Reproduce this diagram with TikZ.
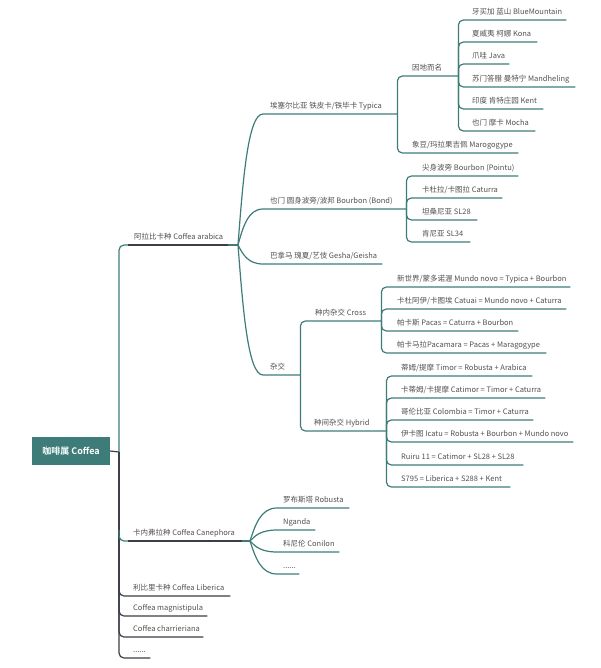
\documentclass[tikz,border=0pt]{standalone}
\usepackage{fontspec}
\setmainfont{Noto Sans CJK SC}[BoldFont={Noto Sans CJK SC Bold}]
\usetikzlibrary{calc}
\definecolor{tl}{HTML}{3D7C79}
\definecolor{dk}{HTML}{3A3E45}
\definecolor{txt}{HTML}{505050}
\tikzset{
  tp/.style={inner xsep=0pt, inner ysep=5.5pt, text depth=0pt, text height=6pt,
    font=\fontsize{7.5}{9}\selectfont, text=txt},
  root/.style={fill=tl, text=white, minimum width=78pt, minimum height=28pt,
    inner sep=0pt, font=\fontsize{9}{11}\selectfont\bfseries},
  tline/.style={draw=tl, line width=1.2pt},
  dline/.style={draw=dk, line width=1.2pt},
  cv/.style={to path={let \p1=(\tikztostart), \p2=(\tikztotarget) in
    .. controls ({\x1+0.2*(\x2-\x1)}, {\y1+0.5*(\y2-\y1)}) and ({\x1+0.4*(\x2-\x1)}, \y2) .. (\tikztotarget)}}
}
\newcommand\tpc[6]{\node[tp, anchor=south west] (#1) at (#2,#4)
  {\makebox[\dimexpr#3pt-#2pt\relax][l]{\hspace{#5pt}#6}};}
\begin{document}
\begin{tikzpicture}[x=1pt,y=-1pt]
\useasboundingbox (0,0) rectangle (600,668);
\node[root] (root) at (71,451) {咖啡属 Coffea};
\coordinate (sp) at (119,452);
% level 1
\tpc{arab}{128}{228}{245}{6}{阿拉比卡种 Coffea arabica}
\coordinate (j1) at (238,245);
\tpc{cane}{128}{242}{541}{5}{卡内弗拉种 Coffea Canephora}
\coordinate (j8) at (250,541);
\coordinate (cc) at (119,530);
\tpc{lib}{119}{230}{596}{14}{利比里卡种 Coffea Liberica}
\tpc{mag}{119}{207}{616}{14}{Coffea magnistipula}
\tpc{cha}{119}{203}{637}{14}{Coffea charrieriana}
\tpc{dotA}{119}{150}{658}{14}{......}
% arabica children
\tpc{typ}{263}{397}{114}{7}{埃塞尔比亚 铁皮卡/铁毕卡 Typica}
\tpc{bou}{263}{406}{209}{7}{也门 圆身波旁/波邦 Bourbon (Bond)}
\tpc{ges}{263}{382}{264}{7}{巴拿马 瑰夏/艺伎 Gesha/Geisha}
\tpc{hyb}{263}{300}{375}{7}{杂交}
% typica children
\tpc{yin}{397}{458}{76}{15}{因地而名}
\tpc{mar}{397}{518}{153}{15}{象豆/玛拉果吉佩 Marogogype}
% yindi children
\tpc{blue}{458}{566}{20}{14}{牙买加 蓝山 BlueMountain}
\tpc{kona}{458}{537}{42}{14}{夏威夷 柯娜 Kona}
\tpc{java}{458}{509}{64}{14}{爪哇 Java}
\tpc{mand}{458}{575}{87}{14}{苏门答腊 曼特宁 Mandheling}
\tpc{kent}{458}{543}{109}{14}{印度 肯特庄园 Kent}
\tpc{moc}{458}{535}{131}{14}{也门 摩卡 Mocha}
% bourbon children
\tpc{poi}{406}{518}{176}{16}{尖身波旁 Bourbon (Pointu)}
\tpc{cat}{406}{502}{198}{16}{卡杜拉/卡图拉 Caturra}
\tpc{slA}{406}{477}{220}{16}{坦桑尼亚 SL28}
\tpc{slB}{406}{470}{242}{16}{肯尼亚 SL34}
% hybrid children
\tpc{cro}{300}{381}{321}{15}{种内杂交 Cross}
\tpc{hy}{300}{386}{431}{14}{种间杂交 Hybrid}
% cross children
\tpc{mn}{381}{570}{287}{16}{新世界/蒙多诺渥 Mundo novo = Typica + Bourbon}
\tpc{cai}{381}{566}{309}{16}{卡杜阿伊/卡图埃 Catuai = Mundo novo + Caturra}
\tpc{pac}{381}{518}{331}{16}{帕卡斯 Pacas = Caturra + Bourbon}
\tpc{pcm}{381}{546}{353}{16}{帕卡马拉Pacamara = Pacas + Maragogype}
% interspecific children
\tpc{tim}{386}{532}{376}{15}{蒂姆/提摩 Timor = Robusta + Arabica}
\tpc{ctm}{386}{545}{398}{15}{卡蒂姆/卡提摩 Catimor = Timor + Caturra}
\tpc{col}{386}{533}{420}{15}{哥伦比亚 Colombia = Timor + Caturra}
\tpc{ica}{386}{573}{442}{15}{伊卡图 Icatu = Robusta + Bourbon + Mundo novo}
\tpc{rui}{386}{523}{465}{15}{Ruiru 11 = Catimor + SL28 + SL28}
\tpc{sev}{386}{510}{487}{15}{S795 = Liberica + S288 + Kent}
% canephora children
\tpc{rob}{277}{349}{508}{6}{罗布斯塔 Robusta}
\tpc{nga}{277}{315}{530}{6}{Nganda}
\tpc{con}{277}{339}{552}{6}{科尼伦 Conilon}
\tpc{dotB}{277}{299}{574}{6}{......}
% connectors
\draw[dline] (root.east) -- (sp);
\draw[tline, rounded corners=5pt] (sp) |- (arab.south west);
\draw[dline] (arab.south west) -- (arab.south east);
\draw[tline] (arab.south east) -- (j1);
\foreach \q in {dotA,cha,mag,lib} \draw[dline, rounded corners=5pt] (sp) |- (\q.south east);
\draw[tline, rounded corners=5pt] (cc) |- (cane.south west);
\draw[dline] (cane.south west) -- (cane.south east);
\draw[tline] (cane.south east) -- (j8);
\foreach \q in {typ,bou,ges,hyb} \draw[tline] (j1) to[cv] (\q.south west) -- (\q.south east);
\foreach \q in {rob,nga,con,dotB} \draw[tline] (j8) to[cv] (\q.south west) -- (\q.south east);
\foreach \q in {yin,mar} \draw[tline, rounded corners=5pt] (typ.south east) |- (\q.south east);
\foreach \q in {blue,kona,java,mand,kent,moc} \draw[tline, rounded corners=5pt] (yin.south east) |- (\q.south east);
\foreach \q in {poi,cat,slA,slB} \draw[tline, rounded corners=5pt] (bou.south east) |- (\q.south east);
\foreach \q in {cro,hy} \draw[tline, rounded corners=5pt] (hyb.south east) |- (\q.south east);
\foreach \q in {mn,cai,pac,pcm} \draw[tline, rounded corners=5pt] (cro.south east) |- (\q.south east);
\foreach \q in {tim,ctm,col,ica,rui,sev} \draw[tline, rounded corners=5pt] (hy.south east) |- (\q.south east);
\end{tikzpicture}
\end{document}
